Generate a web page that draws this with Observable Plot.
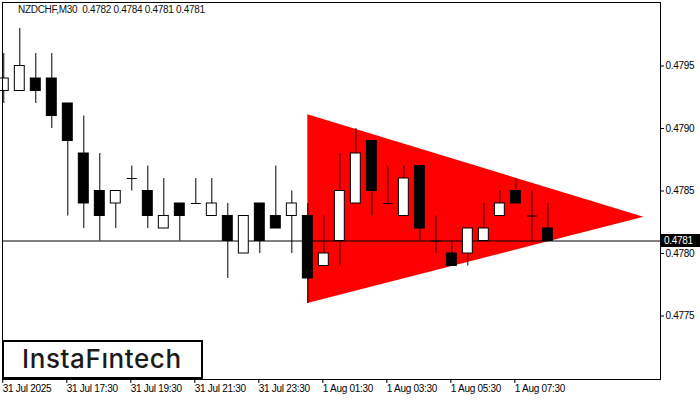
<!DOCTYPE html>
<html><head><meta charset="utf-8">
<script src="https://cdn.jsdelivr.net/npm/d3@7"></script>
<script src="https://cdn.jsdelivr.net/npm/@observablehq/plot@0.6"></script>
<style>
html,body{margin:0;padding:0;background:#fff;}
#wrap{position:relative;width:700px;height:400px;overflow:hidden;}
#title{position:absolute;left:18px;top:4px;font:10px "Liberation Sans",Arial,sans-serif;letter-spacing:-0.3px;color:#111;white-space:pre;}
#logo{position:absolute;left:2px;top:340px;width:197px;height:35px;border:2px solid #000;background:#fff;box-sizing:content-box;}
#logo span{position:absolute;left:18px;top:-1px;font:500 26px "Inter",sans-serif;color:#1b1b1b;letter-spacing:0.6px;line-height:36px;white-space:pre;}
#price{position:absolute;left:661px;width:39px;height:13px;background:#000;color:#fff;font:10px "Liberation Sans",Arial,sans-serif;letter-spacing:-0.3px;line-height:13px;text-align:left;padding-left:3px;box-sizing:border-box;}
</style></head>
<body><div id="wrap"></div>
<script>
// ---- data ----
const symbol = "NZDCHF,M30";
const barIndex = d3.range(35);
const open  = [0.4793,0.4793,0.4794,0.4794,0.4792,0.4788,0.4785,0.4784,0.4786,0.4785,0.4782,0.4784,0.4784,0.4783,0.4783,0.4780,0.4784,0.4783,0.4783,0.4783,0.4779,0.4781,0.4784,0.4789,0.4784,0.4783,0.4787,0.4781,0.4780,0.4780,0.4781,0.4783,0.4785,0.4783,0.4782];
const high  = [0.4796,0.4798,0.4796,0.4796,0.4792,0.4791,0.4788,0.4785,0.4787,0.4787,0.4786,0.4784,0.4786,0.4786,0.4784,0.4783,0.4784,0.4787,0.4785,0.4784,0.4783,0.4788,0.4790,0.4789,0.4787,0.4787,0.4787,0.4783,0.4781,0.4782,0.4784,0.4785,0.4786,0.4785,0.4784];
const low   = [0.4792,0.4793,0.4792,0.4790,0.4783,0.4782,0.4781,0.4782,0.4785,0.4782,0.4782,0.4781,0.4784,0.4783,0.4778,0.4780,0.4780,0.4782,0.4780,0.4776,0.4779,0.4779,0.4784,0.4783,0.4784,0.4783,0.4781,0.4780,0.4779,0.4779,0.4781,0.4783,0.4784,0.4781,0.4781];
const close = [0.4794,0.4795,0.4793,0.4791,0.4789,0.4784,0.4783,0.4785,0.4786,0.4783,0.4783,0.4783,0.4784,0.4784,0.4781,0.4783,0.4781,0.4782,0.4784,0.4778,0.4780,0.4785,0.4788,0.4785,0.4784,0.4786,0.4782,0.4781,0.4779,0.4782,0.4782,0.4784,0.4784,0.4783,0.4781];
const tickBars   = [0,4,8,12,16,20,24,28,32];
const tickLabels = ["31 Jul 2025","31 Jul 17:30","31 Jul 19:30","31 Jul 21:30","31 Jul 23:30","1 Aug 01:30","1 Aug 03:30","1 Aug 05:30","1 Aug 07:30"];
const priceTicks = [0.4775,0.4780,0.4785,0.4790,0.4795];
const triBar    = [19, 40];
const triTop    = [0.47911, 0.47829];
const triBottom = [0.47760, 0.47829];

// ---- build ----
const bars = barIndex.map(i => ({i, o: open[i], h: high[i], l: low[i], c: close[i]}));
const bodies = bars.filter(d => d.o !== d.c).map(d => ({...d, top: Math.max(d.o, d.c), bot: Math.min(d.o, d.c), up: d.c > d.o}));
const dojis = bars.filter(d => d.o === d.c);
const tri = triBar.map((x, j) => ({x, t: triTop[j], b: triBottom[j]}));
const last = close[close.length - 1];
const hw = 0.31;

const plot = Plot.plot({
  width: 700, height: 400,
  marginLeft: 2, marginRight: 40, marginTop: 2, marginBottom: 21,
  style: {fontFamily: '"Liberation Sans", Arial, sans-serif', fontSize: "10px", color: "#000", background: "#fff"},
  x: {type: "linear", domain: [-0.08, 41.04]},
  y: {domain: [0.476992, 0.480008]},
  marks: [
    Plot.areaY(tri, {x: "x", y1: "b", y2: "t", fill: "#ff0000", curve: "linear"}),
    Plot.ruleY([last], {stroke: "#000", strokeWidth: 1}),
    Plot.ruleX(bars, {x: "i", y1: "l", y2: "h", stroke: "#000", strokeWidth: 1}),
    Plot.rect(bodies, {x1: d => d.i - hw, x2: d => d.i + hw, y1: "bot", y2: "top", fill: d => d.up ? "#fff" : "#000", stroke: "#000", strokeWidth: 1}),
    Plot.link(dojis, {x1: d => d.i - hw, x2: d => d.i + hw, y1: "o", y2: "o", stroke: "#000", strokeWidth: 1}),
    Plot.frame({stroke: "#000", strokeWidth: 1}),
    Plot.axisY({anchor: "right", ticks: priceTicks, tickFormat: d => d.toFixed(4), tickSize: 3, tickPadding: 2, fontSize: 10}),
    Plot.axisX({anchor: "bottom", ticks: tickBars, tickFormat: d => tickLabels[tickBars.indexOf(d)], tickSize: 4, tickPadding: 1, textAnchor: "start", dx: -1, fontSize: 10, label: null})
  ]
});
plot.querySelectorAll("text").forEach(t => t.style.letterSpacing = "-0.3px");
const wrap = document.getElementById("wrap");
wrap.appendChild(plot);

const title = document.createElement("div");
title.id = "title";
title.textContent = symbol + "  " + [open[34], high[34], low[34], close[34]].map(v => v.toFixed(4)).join(" ");
wrap.appendChild(title);

const price = document.createElement("div");
price.id = "price";
price.textContent = last.toFixed(4);
price.style.top = (plot.scale("y").apply(last) - 6.5) + "px";
wrap.appendChild(price);

const logo = document.createElement("div");
logo.id = "logo";
logo.innerHTML = "<span>InstaFıntech</span>";
wrap.appendChild(logo);
</script>
</body></html>
